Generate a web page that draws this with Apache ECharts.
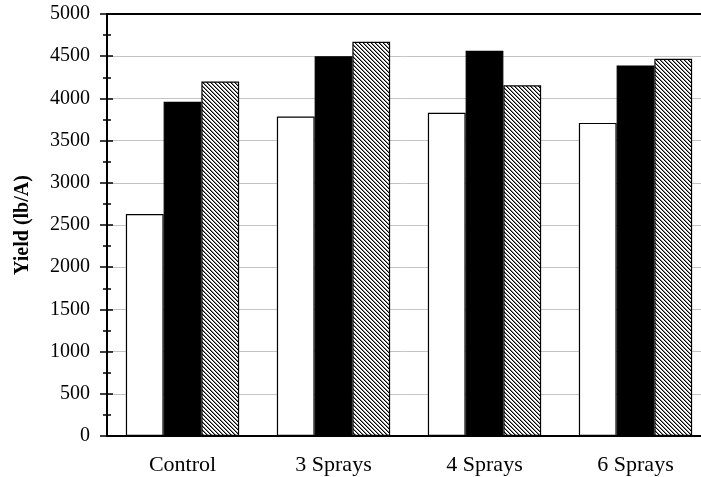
<!DOCTYPE html>
<html>
<head>
<meta charset="utf-8">
<script src="https://cdn.jsdelivr.net/npm/echarts@6/dist/echarts.min.js"></script>
<style>html,body{margin:0;padding:0;background:#fff}#c{width:701px;height:477px}</style>
</head>
<body>
<div id="c"></div>
<script>
const categories = ['Control', '3 Sprays', '4 Sprays', '6 Sprays'];
const seriesWhite = [2630, 3785, 3830, 3710];
const seriesBlack = [3960, 4500, 4565, 4390];
const seriesHatch = [4200, 4670, 4155, 4470];
const yTicks = [0, 500, 1000, 1500, 2000, 2500, 3000, 3500, 4000, 4500, 5000];

function hatch() {
  const c = document.createElement('canvas');
  c.width = 4; c.height = 4;
  const g = c.getContext('2d');
  g.fillStyle = '#fff'; g.fillRect(0, 0, 4, 4);
  for (let y = 0; y < 4; y++) {
    g.fillStyle = '#000'; g.fillRect(y, y, 1, 1);
    g.fillStyle = '#8a8a8a'; g.fillRect((y + 1) % 4, y, 1, 1);
  }
  return c;
}

const font = 'Liberation Serif, Times New Roman, serif';
const chart = echarts.init(document.getElementById('c'));
chart.setOption({
  animation: false,
  backgroundColor: '#fff',
  grid: { left: 107, top: 14, width: 604, height: 422, outerBoundsMode: 'none', containLabel: false },
  xAxis: [{
    type: 'category', data: categories,
    axisLine: { lineStyle: { color: '#000', width: 2 } },
    axisTick: { show: false },
    axisLabel: { color: '#000', fontFamily: font, fontSize: 22, margin: 18 },
    splitLine: { show: false }
  }, {
    type: 'category', data: categories, position: 'top',
    axisLine: { show: true, onZero: false, lineStyle: { color: '#000', width: 2 } },
    axisTick: { show: false }, axisLabel: { show: false }
  }],
  yAxis: [{
    type: 'value', min: yTicks[0], max: yTicks[yTicks.length - 1], interval: 500,
    name: 'Yield (lb/A)', nameLocation: 'middle', nameGap: 74,
    nameTextStyle: { color: '#000', fontFamily: font, fontSize: 20, fontWeight: 'bold' },
    axisLine: { show: true, lineStyle: { color: '#000', width: 2 } },
    axisTick: { show: true, length: 7, lineStyle: { color: '#000', width: 1.5 } },
    minorTick: { show: true, splitNumber: 2, length: 4, lineStyle: { color: '#000', width: 1.5 } },
    axisLabel: { color: '#000', fontFamily: font, fontSize: 20, margin: 17, formatter: v => String(v) },
    splitLine: { show: true, lineStyle: { color: '#c4c4c4', width: 1 } }
  }, {
    type: 'value', min: yTicks[0], max: yTicks[yTicks.length - 1], interval: 500, position: 'left',
    axisLine: { show: false },
    axisTick: { show: true, inside: true, length: 6, lineStyle: { color: '#000', width: 1.5 } },
    minorTick: { show: true, splitNumber: 2, length: 4, lineStyle: { color: '#000', width: 1.5 } },
    axisLabel: { show: false }, splitLine: { show: false }
  }],
  series: [
    { type: 'bar', data: seriesWhite, barGap: '0%', barCategoryGap: '25%',
      itemStyle: { color: '#fff', borderColor: '#000', borderWidth: 1.2 } },
    { type: 'bar', data: seriesBlack, barGap: '0%', barCategoryGap: '25%',
      itemStyle: { color: '#000', borderColor: '#000', borderWidth: 1.2 } },
    { type: 'bar', data: seriesHatch, barGap: '0%', barCategoryGap: '25%',
      itemStyle: { color: { image: hatch(), repeat: 'repeat' }, borderColor: '#000', borderWidth: 1.2 } }
  ]
});
</script>
</body>
</html>
